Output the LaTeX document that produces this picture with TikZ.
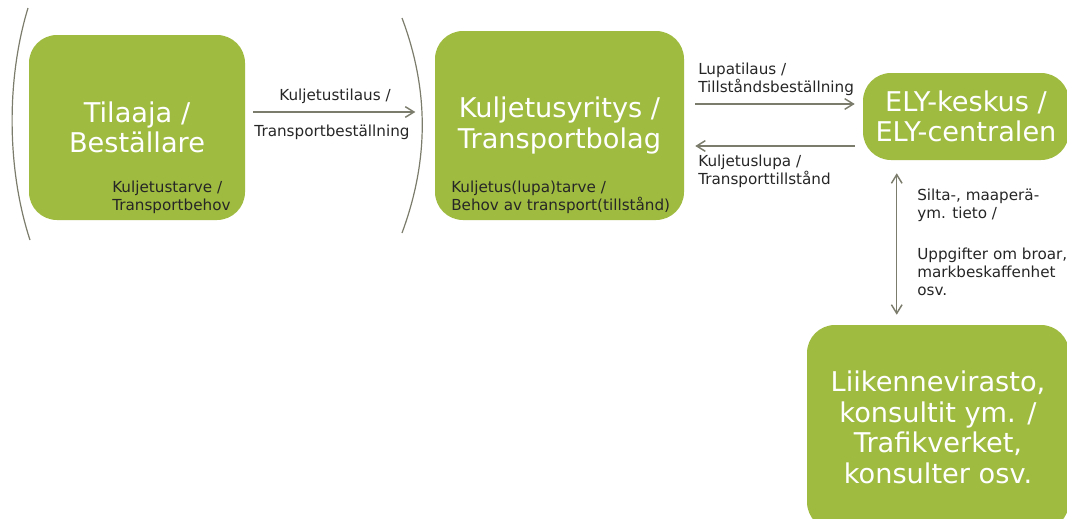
\documentclass[tikz,border=0pt]{standalone}
\usepackage{fontspec}
\setmainfont{DejaVu Sans}
\usetikzlibrary{arrows.meta,calc,positioning}
\definecolor{chainGreen}{HTML}{9FBB40}
\definecolor{chainLine}{HTML}{7C7C6C}
\definecolor{chainText}{HTML}{262626}
\tikzset{
  chainbox/.style={
    rectangle, rounded corners=21pt, fill=chainGreen, draw=none,
    align=center, text=white, inner sep=0pt,
    font=\fontsize{20.4}{23}\selectfont
  },
  chainnote/.style={
    align=left, text=chainText, inner sep=0pt,
    font=\fontsize{11.4}{13.5}\selectfont
  },
  chainarrow/.style={-{Straight Barb[length=6.5pt,width=8pt]}, line width=1.1pt, draw=chainLine},
  chainparen/.style={line width=0.9pt, draw=chainLine}
}
\begin{document}
\begin{tikzpicture}[x=0.75pt,y=-0.75pt]
  \useasboundingbox (0,0) rectangle (1067,518);

  % main actors
  \node[chainbox, minimum width=162pt, minimum height=138.75pt] (tilaaja) at (137,127.5)
    {Tilaaja /\\Beställare};
  \node[chainbox, minimum width=186.75pt, minimum height=141.75pt] (yritys) at (559.5,125.5)
    {Kuljetusyritys /\\Transportbolag};
  \node[chainbox, minimum width=154.5pt, minimum height=65.25pt] (ely) at (966,116.5)
    {ELY-keskus /\\ELY-centralen};
  \node[chainbox, minimum width=196.5pt, minimum height=153.75pt] (virasto) at (938,427.5)
    {Liikennevirasto,\\konsultit ym. /\\Trafikverket,\\konsulter osv.};

  % needs written inside the boxes
  \node[chainnote, anchor=west] (tarve) at (112,197)
    {Kuljetustarve /\\Transportbehov};
  \node[chainnote, anchor=west] (lupatarve) at (451,197)
    {Kuljetus(lupa)tarve /\\Behov av transport(tillstånd)};

  % brackets round the ordering pair
  \coordinate (ltop) at (28,8);
  \coordinate (lbot) at (30,240);
  \coordinate (rtop) at (402,18);
  \coordinate (rbot) at (402,233);
  \coordinate (rmid) at (422,112);
  \draw[chainparen] (ltop) .. controls (6,80) and (7,170) .. (lbot);
  \draw[chainparen] (rtop) .. controls (429,90) and (429,160) .. (rbot);

  % order to the carrier
  \draw[chainarrow] ([xshift=6pt]tilaaja.east |- rmid) -- ([xshift=-5pt]rmid);
  \node[chainnote, anchor=center] (tilaus) at (335,96) {Kuljetustilaus /};
  \node[chainnote, anchor=center] (bestall) at (332,132) {Transportbeställning};

  % permit request and permit
  \draw[chainarrow] ($(yritys.east |- ely.west)+(11,-12.5)$) -- ($(ely.west)+(-8,-12.5)$);
  \draw[chainarrow] ($(ely.west)+(-8,29.5)$) -- ($(yritys.east |- ely.west)+(11,29.5)$);
  \node[chainnote, anchor=west] (lupatilaus) at (698,79)
    {Lupatilaus /\\Tillståndsbeställning};
  \node[chainnote, anchor=west] (lupa) at (698,171)
    {Kuljetuslupa /\\Transporttillstånd};

  % data exchange with the agency
  \draw[chainarrow, {Straight Barb[length=6.5pt,width=8pt]}-{Straight Barb[length=6.5pt,width=8pt]}]
    ($(ely.south west)+(34,13)$) -- ($(virasto.north west)+(90,-10)$);
  \node[chainnote, anchor=west] (tieto) at (917,205)
    {Silta-, maaperä-\\ym. tieto /};
  \node[chainnote, anchor=west] (uppgift) at (917,272)
    {Uppgifter om broar,\\markbeskaffenhet\\osv.};
\end{tikzpicture}
\end{document}
